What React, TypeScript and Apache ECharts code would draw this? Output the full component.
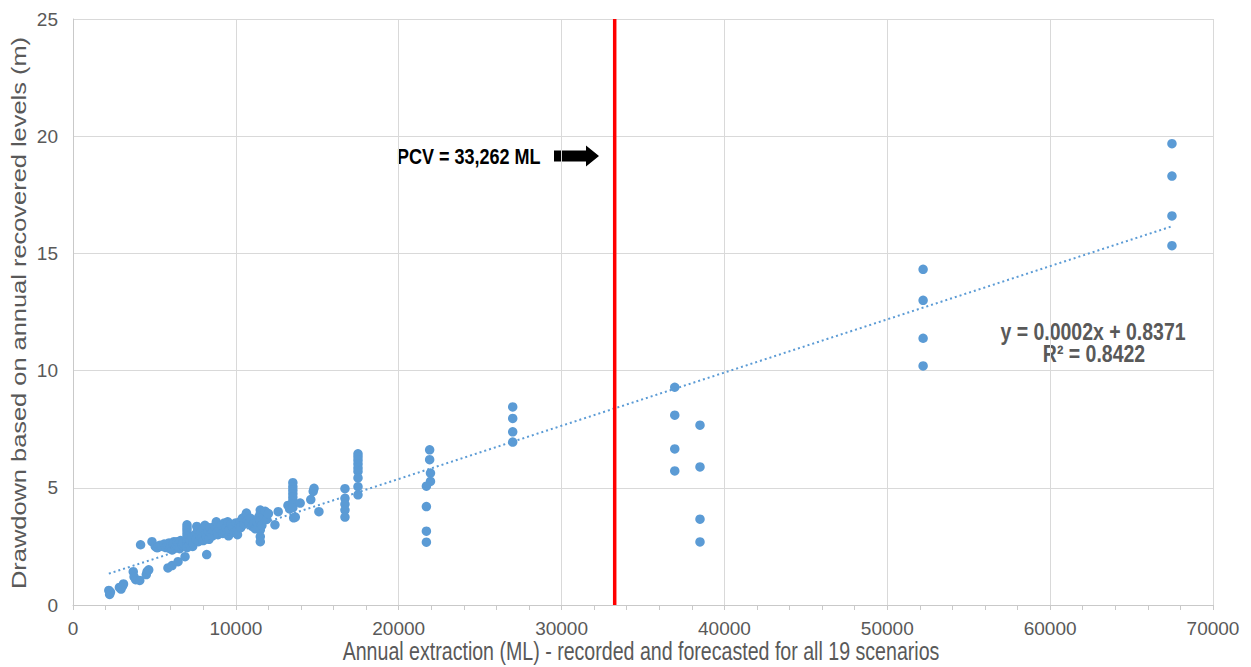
import React, { useEffect, useRef } from "react";
import * as echarts from "echarts";

// ---- Data ----
// [annual extraction (ML), drawdown (m)]
const lowExtraction: Array<[number, number]> = [
  [2200, 0.62], [2250, 0.45], [2300, 0.55],
  [2850, 0.75], [2950, 0.68], [3100, 0.9], [3050, 0.82],
  [3700, 1.42], [3750, 1.2], [3850, 1.08], [4100, 1.05], [4150, 2.57],
  [4500, 1.3], [4550, 1.42], [4650, 1.5],
  [4850, 2.7], [5050, 2.5], [5150, 2.45],
  [5830, 1.58], [6080, 1.68], [6450, 1.85], [6880, 2.06],
];

const denseCluster: Array<[number, number]> = [
  [5200, 2.45], [5350, 2.55], [5500, 2.5], [5600, 2.6], [5700, 2.45], [5800, 2.55],
  [5900, 2.65], [5950, 2.4], [6000, 2.5], [6100, 2.35], [6150, 2.6], [6200, 2.7],
  [6300, 2.45], [6350, 2.55], [6400, 2.7], [6500, 2.6], [6550, 2.4], [6600, 2.75],
  [6700, 2.55], [6750, 2.65],
  [7000, 3.42], [7000, 3.3], [7000, 3.18], [7000, 3.05], [7000, 2.92], [7000, 2.8],
  [7000, 2.68], [7000, 2.55], [7000, 2.45],
  [7150, 2.6], [7200, 2.75], [7300, 2.9], [7350, 2.5], [7400, 2.65], [7500, 3.0],
  [7550, 2.8], [7600, 3.35], [7650, 3.2], [7700, 2.7], [7800, 2.95], [7850, 3.1],
  [7900, 2.85], [8000, 3.25], [8000, 2.75],
  [8100, 3.4], [8150, 3.0], [8200, 2.9], [8210, 2.15], [8300, 3.15], [8350, 2.8],
  [8400, 3.3], [8500, 3.05], [8550, 2.95], [8600, 3.2], [8700, 3.35], [8800, 3.55],
  [8850, 3.1], [8900, 3.0], [9000, 3.25],
  [9100, 3.4], [9200, 3.05], [9300, 3.5], [9350, 3.15], [9400, 3.3], [9500, 3.55],
  [9550, 2.95], [9600, 3.2], [9700, 3.45], [9800, 3.35], [9900, 3.1], [10000, 3.5],
  [10050, 3.15], [10100, 3.0], [10200, 3.4], [10250, 3.55], [10300, 3.3], [10400, 3.7],
  [10500, 3.45], [10600, 3.8], [10650, 3.92], [10700, 3.6], [10800, 3.5], [10900, 3.7],
  [11000, 3.35],
  [11100, 3.48], [11200, 3.25], [11300, 3.55], [11400, 3.75], [11500, 4.05], [11500, 3.9],
  [11500, 3.6], [11500, 3.2], [11500, 2.92], [11500, 2.7], [11600, 3.4], [11700, 3.8],
  [11800, 4.0], [11900, 3.65], [12000, 3.9],
];

const midExtraction: Array<[number, number]> = [
  [12400, 3.42], [12600, 3.98], [13200, 4.25], [13300, 4.1],
  [13500, 5.22], [13500, 5.05], [13500, 4.9], [13500, 4.75], [13500, 4.6], [13500, 4.45],
  [13500, 4.3], [13500, 4.15], [13550, 3.72], [13650, 3.75], [13950, 4.35],
  [14600, 4.5], [14750, 4.85], [14800, 4.98], [15100, 3.98],
  [16700, 4.96], [16700, 4.55], [16700, 4.3], [16700, 4.05], [16700, 3.75],
  [17500, 6.45], [17500, 6.32], [17500, 6.18], [17500, 6.02], [17500, 5.85], [17500, 5.7],
  [17500, 5.42], [17500, 5.05], [17500, 4.7],
  [21900, 6.62], [21900, 6.2], [21950, 5.63], [21950, 5.27], [21700, 5.07], [21700, 4.2],
  [21700, 3.15], [21700, 2.68],
  [27000, 8.45], [27000, 7.96], [27000, 7.39], [27000, 6.95],
];

const highExtraction: Array<[number, number]> = [
  [36950, 9.29], [36950, 8.1], [36950, 6.66], [36950, 5.72],
  [38500, 7.67], [38500, 5.89], [38500, 3.66], [38500, 2.69],
  [52200, 14.32], [52200, 13.0], [52200, 11.38], [52200, 10.2],
  [67480, 19.68], [67480, 18.3], [67480, 16.6], [67480, 15.33],
];

const PCV = 33262; // ML
const TREND_SLOPE = 0.000227;
const TREND_INTERCEPT = 0.8371;
const TREND_LABEL = ["y = 0.0002x + 0.8371", "R² = 0.8422"];
const PCV_LABEL = "PCV = 33,262 ML";
const X_TITLE = "Annual extraction (ML) - recorded and forecasted for all 19 scenarios";
const Y_TITLE = "Drawdown based on annual recovered levels (m)";

const FONT = "'Liberation Sans', Arial, sans-serif";
const BLUE = "#5b9bd5";
const GREY_TEXT = "#595959";
const STRETCH = 1.27;

export default function App() {
  const ref = useRef<HTMLDivElement>(null);

  useEffect(() => {
    if (!ref.current) return;
    document.body.style.margin = "0";
    const chart = echarts.init(ref.current, undefined, { renderer: "svg" });

    const allPoints = [...lowExtraction, ...denseCluster, ...midExtraction, ...highExtraction];
    const xs = allPoints.map((p) => p[0]);
    const xMin = Math.min(...xs);
    const xMax = Math.max(...xs);
    const trend = [
      [xMin, TREND_SLOPE * xMin + TREND_INTERCEPT],
      [xMax, TREND_SLOPE * xMax + TREND_INTERCEPT],
    ];

    chart.setOption({
      animation: false,
      backgroundColor: "#ffffff",
      grid: { left: 73, right: 38, top: 19, bottom: 62, containLabel: false },
      xAxis: {
        type: "value",
        min: 0,
        max: 70000,
        interval: 10000,
        axisLine: { show: true, lineStyle: { color: "#c9c9c9", width: 1 } },
        axisTick: { show: true, length: 5, lineStyle: { color: "#c9c9c9" } },
        minorTick: { show: true, splitNumber: 5, length: 5, lineStyle: { color: "#c9c9c9" } },
        splitLine: { show: true, lineStyle: { color: "#d9d9d9", width: 1 } },
        axisLabel: {
          color: GREY_TEXT,
          fontSize: 19,
          fontFamily: FONT,
          margin: 14,
          formatter: (v: number) => String(v),
        },
      },
      yAxis: {
        type: "value",
        min: 0,
        max: 25,
        interval: 5,
        axisLine: { show: true, lineStyle: { color: "#c9c9c9", width: 1 } },
        axisTick: { show: false },
        splitLine: { show: true, lineStyle: { color: "#d9d9d9", width: 1 } },
        axisLabel: { color: GREY_TEXT, fontSize: 19, fontFamily: FONT, margin: 15 },
      },
      series: [
        {
          type: "scatter",
          name: "Drawdown",
          data: allPoints,
          symbol: "circle",
          symbolSize: 9.5,
          itemStyle: { color: BLUE, opacity: 1 },
          z: 3,
        },
        {
          type: "line",
          name: "Linear trend",
          data: trend,
          showSymbol: false,
          symbol: "none",
          lineStyle: { color: BLUE, width: 2, type: [2, 3] },
          z: 4,
        },
        {
          type: "line",
          name: "PCV",
          data: [
            [PCV, 0],
            [PCV, 25],
          ],
          showSymbol: false,
          symbol: "none",
          lineStyle: { color: "#ff0000", width: 3.5 },
          z: 5,
        },
      ],
      graphic: [
        {
          type: "text",
          x: 19,
          y: 313,
          rotation: Math.PI / 2,
          scaleX: STRETCH,
          style: {
            text: Y_TITLE,
            font: `20px ${FONT}`,
            fill: GREY_TEXT,
            align: "center",
            verticalAlign: "middle",
          },
        },
        {
          type: "text",
          x: 641,
          y: 652,
          scaleY: STRETCH,
          style: {
            text: X_TITLE,
            font: `19.6px ${FONT}`,
            fill: GREY_TEXT,
            align: "center",
            verticalAlign: "middle",
          },
        },
        {
          type: "text",
          x: 397,
          y: 156,
          scaleY: STRETCH,
          style: {
            text: PCV_LABEL,
            font: `bold 18px ${FONT}`,
            fill: "#000000",
            align: "left",
            verticalAlign: "middle",
          },
        },
        {
          type: "polygon",
          shape: {
            points: [
              [554, 150.5],
              [586, 150.5],
              [586, 145.5],
              [599, 156],
              [586, 166.5],
              [586, 161.5],
              [554, 161.5],
            ],
          },
          style: { fill: "#000000" },
        },
        {
          type: "text",
          x: 1093,
          y: 332,
          scaleY: STRETCH,
          style: {
            text: TREND_LABEL[0],
            font: `bold 19.5px ${FONT}`,
            fill: GREY_TEXT,
            align: "center",
            verticalAlign: "middle",
          },
        },
        {
          type: "text",
          x: 1094,
          y: 354,
          scaleY: STRETCH,
          style: {
            text: TREND_LABEL[1],
            font: `bold 19.5px ${FONT}`,
            fill: GREY_TEXT,
            align: "center",
            verticalAlign: "middle",
          },
        },
      ],
    });

    return () => chart.dispose();
  }, []);

  return (
    <div
      ref={ref}
      style={{ position: "fixed", left: 0, top: 0, width: 1251, height: 667, background: "#fff" }}
    />
  );
}
